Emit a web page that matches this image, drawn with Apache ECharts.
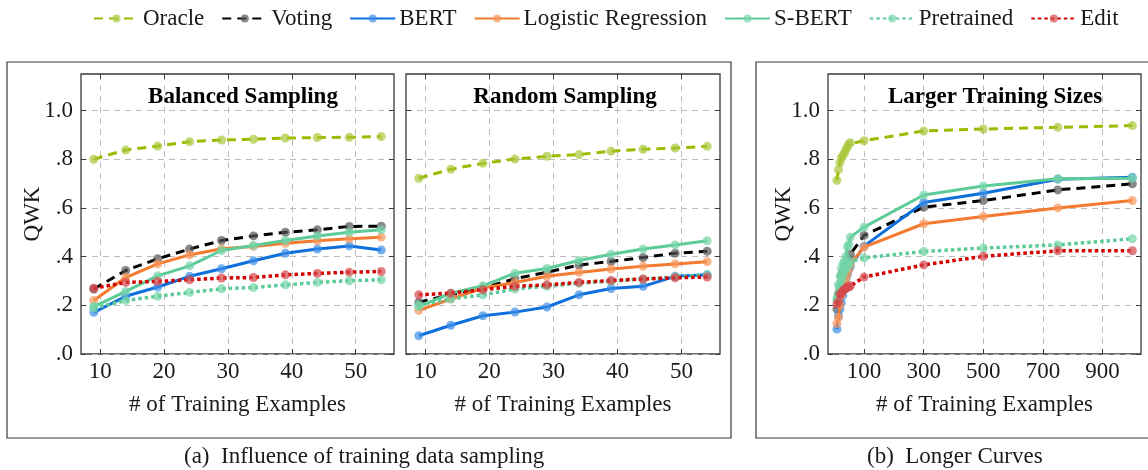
<!DOCTYPE html>
<html>
<head>
<meta charset="utf-8">
<script src="https://cdn.jsdelivr.net/npm/echarts@6/dist/echarts.min.js"></script>
<style>
  html, body { margin: 0; padding: 0; background: #fff; }
  #chart { width: 1148px; height: 470px; }
</style>
</head>
<body>
<div id="chart"></div>
<script>
// series names / colours
const names = ['Oracle', 'Voting', 'BERT', 'Logistic Regression', 'S-BERT', 'Pretrained', 'Edit']
const colors = ['#9cba00', '#000000', '#0d6fdc', '#f47a30', '#5ccb98', '#5ccb98', '#d40000']
const markColors = ['#a9c73a', '#555555', '#3d8ee6', '#f7955a', '#74d4a8', '#74d4a8', '#d6474b']

// x values
const sizesShort = [9, 14, 19, 24, 29, 34, 39, 44, 49, 54]
const sizesLong = [9, 14, 19, 24, 29, 34, 39, 44, 49, 54, 100, 300, 500, 750, 1000]

// tick labels
const yTicks = [0, 0.2, 0.4, 0.6, 0.8, 1.0]
const xTicksShort = [10, 20, 30, 40, 50]
const xTicksLong = [100, 300, 500, 700, 900]

// (a) balanced sampling
const balOracle = [0.80, 0.838, 0.854, 0.872, 0.879, 0.882, 0.887, 0.889, 0.890, 0.893]
const balVoting = [0.267, 0.343, 0.391, 0.431, 0.466, 0.485, 0.500, 0.510, 0.524, 0.525]
const balBert = [0.171, 0.237, 0.275, 0.319, 0.350, 0.383, 0.414, 0.431, 0.444, 0.427]
const balLogreg = [0.220, 0.314, 0.370, 0.407, 0.432, 0.442, 0.455, 0.465, 0.473, 0.480]
const balSbert = [0.195, 0.257, 0.321, 0.362, 0.425, 0.446, 0.466, 0.485, 0.500, 0.510]
const balPretrained = [0.189, 0.220, 0.237, 0.253, 0.268, 0.273, 0.284, 0.294, 0.301, 0.305]
const balEdit = [0.270, 0.294, 0.298, 0.305, 0.312, 0.314, 0.325, 0.331, 0.336, 0.339]

// (a) random sampling
const rndOracle = [0.722, 0.759, 0.783, 0.801, 0.812, 0.819, 0.833, 0.841, 0.846, 0.853]
const rndVoting = [0.213, 0.243, 0.271, 0.309, 0.336, 0.365, 0.380, 0.396, 0.414, 0.422]
const rndBert = [0.075, 0.118, 0.157, 0.172, 0.193, 0.243, 0.269, 0.278, 0.319, 0.325]
const rndLogreg = [0.179, 0.226, 0.271, 0.294, 0.319, 0.335, 0.349, 0.360, 0.370, 0.379]
const rndSbert = [0.195, 0.250, 0.280, 0.332, 0.351, 0.384, 0.410, 0.431, 0.448, 0.465]
const rndPretrained = [0.202, 0.226, 0.243, 0.267, 0.278, 0.291, 0.299, 0.308, 0.316, 0.325]
const rndEdit = [0.243, 0.250, 0.264, 0.278, 0.284, 0.294, 0.302, 0.308, 0.313, 0.316]

// (b) longer curves
const lngOracle = [0.713, 0.757, 0.785, 0.805, 0.815, 0.825, 0.840, 0.850, 0.862, 0.868, 0.876, 0.916, 0.924, 0.931, 0.938]
const lngVoting = [0.185, 0.245, 0.270, 0.320, 0.335, 0.340, 0.360, 0.375, 0.390, 0.410, 0.487, 0.603, 0.630, 0.674, 0.699]
const lngBert = [0.102, 0.157, 0.184, 0.210, 0.240, 0.280, 0.307, 0.327, 0.348, 0.360, 0.443, 0.622, 0.660, 0.718, 0.726]
const lngLogreg = [0.125, 0.150, 0.200, 0.240, 0.270, 0.290, 0.310, 0.330, 0.350, 0.370, 0.439, 0.535, 0.565, 0.600, 0.630]
const lngSbert = [0.230, 0.285, 0.320, 0.350, 0.370, 0.380, 0.400, 0.440, 0.450, 0.480, 0.521, 0.653, 0.690, 0.720, 0.722]
const lngPretrained = [0.220, 0.250, 0.280, 0.300, 0.320, 0.340, 0.350, 0.360, 0.370, 0.380, 0.395, 0.421, 0.435, 0.448, 0.473]
const lngEdit = [0.205, 0.215, 0.245, 0.250, 0.260, 0.265, 0.270, 0.275, 0.275, 0.280, 0.316, 0.366, 0.401, 0.424, 0.424]

const FONT = 'Liberation Serif'
const frame = '#3a3a3a'
const ink = '#1a1a1a'

function lineType (i) {
  if (i <= 1) return [9, 6]
  if (i >= 5) return [3.5, 3]
  return 'solid'
}

function makeSeries (gi, xs, rows) {
  return rows.map(function (vals, i) {
    return {
      name: names[i],
      type: 'line',
      xAxisIndex: gi * 2,
      yAxisIndex: gi * 2,
      data: vals.map(function (v, k) { return [xs[k], v] }),
      symbol: 'circle',
      symbolSize: 9,
      itemStyle: { color: markColors[i], opacity: 0.7 },
      lineStyle: { color: colors[i], width: i >= 5 ? 3.5 : 3, type: lineType(i), cap: 'butt' },
      emphasis: { disabled: true },
      z: 2 + i
    }
  })
}

function xAxes (gi, min, max, ticks) {
  return [
    {
      gridIndex: gi, type: 'value', position: 'bottom', min: min, max: max,
      axisLine: { show: false, onZero: false },
      axisTick: { show: true, inside: true, length: 5, customValues: ticks, lineStyle: { color: frame, width: 1 } },
      axisLabel: { customValues: ticks, margin: 6, color: ink, fontFamily: FONT, fontSize: 23 },
      splitLine: { show: true, lineStyle: { color: '#bdbdbd', type: [6, 5], width: 1 } },
      name: '# of Training Examples', nameLocation: 'middle', nameGap: 39,
      nameTextStyle: { color: ink, fontFamily: FONT, fontSize: 23 }
    },
    {
      gridIndex: gi, type: 'value', position: 'top', min: min, max: max,
      axisLine: { show: false, onZero: false },
      axisTick: { show: true, inside: true, length: 5, customValues: ticks, lineStyle: { color: frame, width: 1 } },
      axisLabel: { show: false },
      splitLine: { show: false }
    }
  ]
}

function yAxes (gi, showLabels, gap) {
  return [
    {
      gridIndex: gi, type: 'value', position: 'left', min: 0, max: 1.15,
      axisLine: { show: false, onZero: false },
      axisTick: { show: true, inside: true, length: 5, customValues: yTicks, lineStyle: { color: frame, width: 1 } },
      axisLabel: {
        show: showLabels, customValues: yTicks, margin: 8, color: ink, fontFamily: FONT, fontSize: 23,
        formatter: function (v) { return v >= 1 ? v.toFixed(1) : v.toFixed(1).replace(/^0/, '') }
      },
      splitLine: { show: true, lineStyle: { color: '#bdbdbd', type: [6, 5], width: 1 } },
      name: showLabels ? 'QWK' : '', nameLocation: 'middle', nameGap: gap, nameMoveOverlap: false,
      nameTextStyle: { color: ink, fontFamily: FONT, fontSize: 23 }
    },
    {
      gridIndex: gi, type: 'value', position: 'right', min: 0, max: 1.15,
      axisLine: { show: false, onZero: false },
      axisTick: { show: true, inside: true, length: 5, customValues: yTicks, lineStyle: { color: frame, width: 1 } },
      axisLabel: { show: false },
      splitLine: { show: false }
    }
  ]
}

const gridBox = { show: true, borderColor: frame, borderWidth: 1.3, backgroundColor: 'transparent' }

const chart = echarts.init(document.getElementById('chart'))
chart.setOption({
  animation: false,
  backgroundColor: '#fff',
  legend: {
    data: names,
    top: 2,
    left: 88,
    itemWidth: 45,
    itemHeight: 10,
    itemGap: 17,
    textStyle: { color: ink, fontFamily: FONT, fontSize: 23, padding: [0, 0, 0, -1] }
  },
  grid: [
    Object.assign({ left: 81, top: 74, width: 313, height: 280 }, gridBox),
    Object.assign({ left: 406, top: 74, width: 314, height: 280 }, gridBox),
    Object.assign({ left: 828, top: 74, width: 313, height: 280 }, gridBox)
  ],
  xAxis: [].concat(
    xAxes(0, 7, 56, xTicksShort),
    xAxes(1, 7, 56, xTicksShort),
    xAxes(2, -21, 1029, xTicksLong)
  ),
  yAxis: [].concat(yAxes(0, true, 37), yAxes(1, false, 37), yAxes(2, true, 33)),
  graphic: [
    { type: 'rect', shape: { x: 7, y: 62, width: 724, height: 376 }, style: { fill: 'none', stroke: frame, lineWidth: 1.2 }, z: -1 },
    { type: 'rect', shape: { x: 756, y: 62, width: 400, height: 376 }, style: { fill: 'none', stroke: frame, lineWidth: 1.2 }, z: -1 },
    { type: 'text', x: 243, y: 97, style: { text: 'Balanced Sampling', font: 'bold 23px "Liberation Serif"', fill: '#000', textAlign: 'center', textVerticalAlign: 'middle' }, z: 20 },
    { type: 'text', x: 565, y: 97, style: { text: 'Random Sampling', font: 'bold 23px "Liberation Serif"', fill: '#000', textAlign: 'center', textVerticalAlign: 'middle' }, z: 20 },
    { type: 'text', x: 995, y: 97, style: { text: 'Larger Training Sizes', font: 'bold 23px "Liberation Serif"', fill: '#000', textAlign: 'center', textVerticalAlign: 'middle' }, z: 20 },
    { type: 'text', x: 184, y: 457, style: { text: '(a)  Influence of training data sampling', font: '23px "Liberation Serif"', fill: ink, textAlign: 'left', textVerticalAlign: 'middle' } },
    { type: 'text', x: 867, y: 457, style: { text: '(b)  Longer Curves', font: '23px "Liberation Serif"', fill: ink, textAlign: 'left', textVerticalAlign: 'middle' } }
  ],
  series: [].concat(
    makeSeries(0, sizesShort, [balOracle, balVoting, balBert, balLogreg, balSbert, balPretrained, balEdit]),
    makeSeries(1, sizesShort, [rndOracle, rndVoting, rndBert, rndLogreg, rndSbert, rndPretrained, rndEdit]),
    makeSeries(2, sizesLong, [lngOracle, lngVoting, lngBert, lngLogreg, lngSbert, lngPretrained, lngEdit])
  )
})
</script>
</body>
</html>
